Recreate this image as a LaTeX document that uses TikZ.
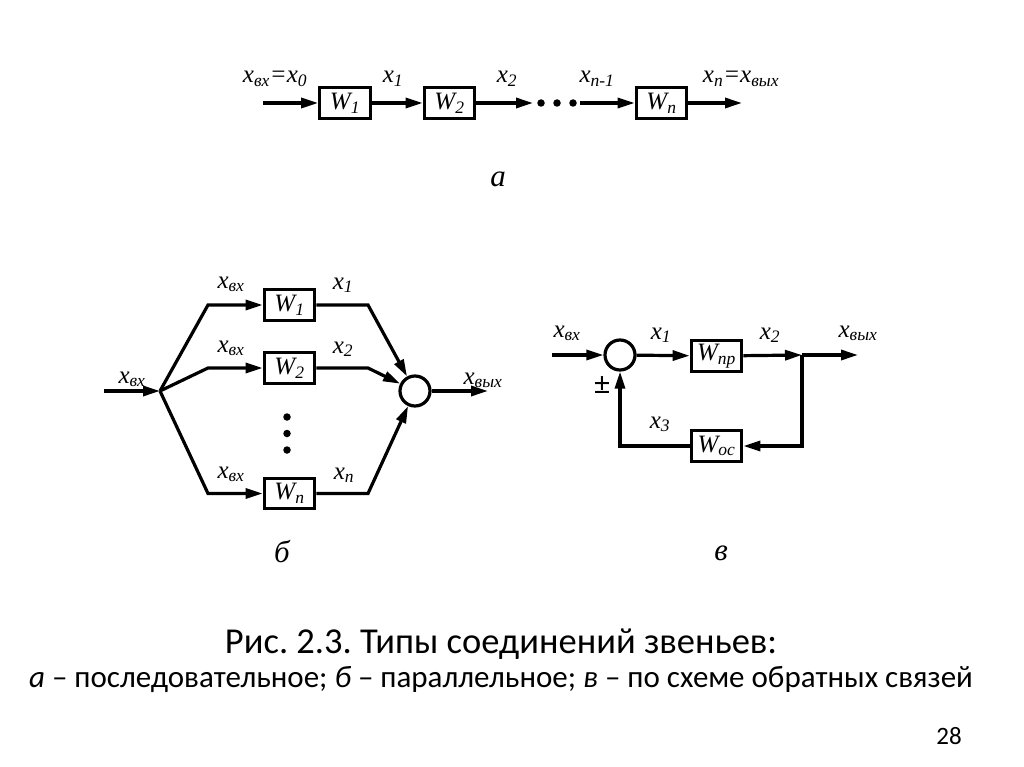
\documentclass[tikz,border=0pt]{standalone}
\usepackage{fontspec}
\setmainfont{Liberation Serif}
\newfontfamily\capfont{Carlito}
\usetikzlibrary{arrows.meta}
\frenchspacing

\begin{document}
\begin{tikzpicture}[x=1pt, y=-1pt, line width=3.2pt,
	>={Triangle[length=17pt,width=10pt]},
	blk/.style={shape=rectangle, draw, line width=3.2pt, minimum width=50.5pt, minimum height=30.5pt, inner sep=0pt, font=\fontsize{25}{27}\selectfont\itshape},
	summer/.style={shape=circle, draw, line width=3.2pt, minimum size=30pt, inner sep=0pt},
	lbl/.style={anchor=base, inner sep=0pt, font=\fontsize{25}{28}\selectfont\itshape},
	partlbl/.style={anchor=base, inner sep=0pt, font=\fontsize{31}{34}\selectfont\itshape},
	bigdot/.style={shape=circle, fill, minimum size=7.5pt, inner sep=0pt}]
	\useasboundingbox (0,0) rectangle (1024,767);
	% a: series connection
	\coordinate (ain) at (263,103);
	\node[blk] (aw1) at (345,103) {W\textsubscript{1}};
	\node[blk] (aw2) at (449.5,103) {W\textsubscript{2}};
	\coordinate (adotin) at (533,103);
	\node[bigdot] (ad1) at (541,103) {};
	\node[bigdot] (ad2) at (557,103) {};
	\node[bigdot] (ad3) at (573,103) {};
	\coordinate (adotout) at (580,103);
	\node[blk] (awn) at (661.5,103) {W\textsubscript{n}};
	\coordinate (aout) at (742,103);
	\draw[->] (ain) -- (aw1);
	\draw[->] (aw1) -- (aw2);
	\draw[->] (aw2) -- (adotin);
	\draw[->] (adotout) -- (awn);
	\draw[->] (awn) -- (aout);
	\node[lbl] (ax0) at (275,83) {x\textsubscript{вх}=x\textsubscript{0}};
	\node[lbl] (ax1) at (393,83) {x\textsubscript{1}};
	\node[lbl] (ax2) at (507,83) {x\textsubscript{2}};
	\node[lbl] (axm) at (597,83) {x\textsubscript{n-1}};
	\node[lbl] (axn) at (741,83) {x\textsubscript{n}=x\textsubscript{вых}};
	\node[partlbl] (pa) at (498,187) {а};
	% b: parallel connection
	\coordinate (bin) at (104,391);
	\coordinate (bsplit) at (160,391);
	\coordinate (bb1) at (208,305);
	\coordinate (bb2) at (208,368);
	\coordinate (bbn) at (208,493.5);
	\node[blk] (bw1) at (289.5,305) {W\textsubscript{1}};
	\node[blk] (bw2) at (289.5,368) {W\textsubscript{2}};
	\node[blk] (bwn) at (289.5,493.5) {W\textsubscript{n}};
	\coordinate (bc1) at (368,305);
	\coordinate (bc2) at (368,368);
	\coordinate (bcn) at (368,493.5);
	\node[summer] (bsum) at (415,391) {};
	\coordinate (bout) at (488,391);
	\node[bigdot] (bd1) at (287,417) {};
	\node[bigdot] (bd2) at (287,433.5) {};
	\node[bigdot] (bd3) at (287,450) {};
	\draw[->] (bin) -- (bsplit);
	\draw[->] (bsplit) -- (bb1) -- (bw1);
	\draw[->] (bsplit) -- (bb2) -- (bw2);
	\draw[->] (bsplit) -- (bbn) -- (bwn);
	\draw[->] (bw1) -- (bc1) -- (bsum);
	\draw[->] (bw2) -- (bc2) -- (bsum);
	\draw[->] (bwn) -- (bcn) -- (bsum);
	\draw[->] (bsum) -- (bout);
	\node[lbl] (bxin) at (132,383) {x\textsubscript{вх}};
	\node[lbl] (bx01) at (231,288) {x\textsubscript{вх}};
	\node[lbl] (bx02) at (231,352) {x\textsubscript{вх}};
	\node[lbl] (bx0n) at (231,478) {x\textsubscript{вх}};
	\node[lbl] (bx1) at (343,289) {x\textsubscript{1}};
	\node[lbl] (bx2) at (343,353) {x\textsubscript{2}};
	\node[lbl] (bxn) at (344,479) {x\textsubscript{n}};
	\node[lbl] (bxout) at (483,384) {x\textsubscript{вых}};
	\node[partlbl] (pb) at (282,562) {б};
	% c: feedback connection
	\coordinate (vin) at (552,355);
	\node[summer] (vsum) at (620,355) {};
	\node[blk] (vwpr) at (716.5,356) {W\textsubscript{пр}};
	\coordinate (vsplit) at (802,355);
	\coordinate (vout) at (858,355);
	\node[blk] (vwos) at (716.5,446) {W\textsubscript{ос}};
	\draw[->] (vin) -- (vsum);
	\draw[->] (vsum) -- (vwpr);
	\draw[->] (vwpr) -- (vsplit);
	\draw[->] (vsplit) -- (vout);
	\draw[->] (vsplit) |- (vwos);
	\draw[->] (vwos) -| (vsum);
	\node[lbl] (vxin) at (567,337) {x\textsubscript{вх}};
	\node[lbl] (vx1) at (661,339) {x\textsubscript{1}};
	\node[lbl] (vx2) at (770,339) {x\textsubscript{2}};
	\node[lbl] (vxout) at (858,337) {x\textsubscript{вых}};
	\node[lbl] (vx3) at (660,428) {x\textsubscript{3}};
	\node[inner sep=0pt, font=\fontsize{30}{32}\selectfont\bfseries] (vpm) at (602,385) {±};
	\node[partlbl] (pc) at (721,560) {в};
	% caption
	\node[anchor=base, inner sep=0pt, font=\capfont\fontsize{36.5}{40}\selectfont] (cap1) at (501,653) {Рис. 2.3. Типы соединений звеньев:};
	\node[anchor=base, inner sep=0pt, font=\capfont\fontsize{31}{34}\selectfont] (cap2) at (501,687) {\textit{а} – последовательное; \textit{б} – параллельное; \textit{в} – по схеме обратных связей};
	\node[anchor=base, inner sep=0pt, font=\capfont\fontsize{25}{28}\selectfont] (pnum) at (949,744) {28};
\end{tikzpicture}
\end{document}
